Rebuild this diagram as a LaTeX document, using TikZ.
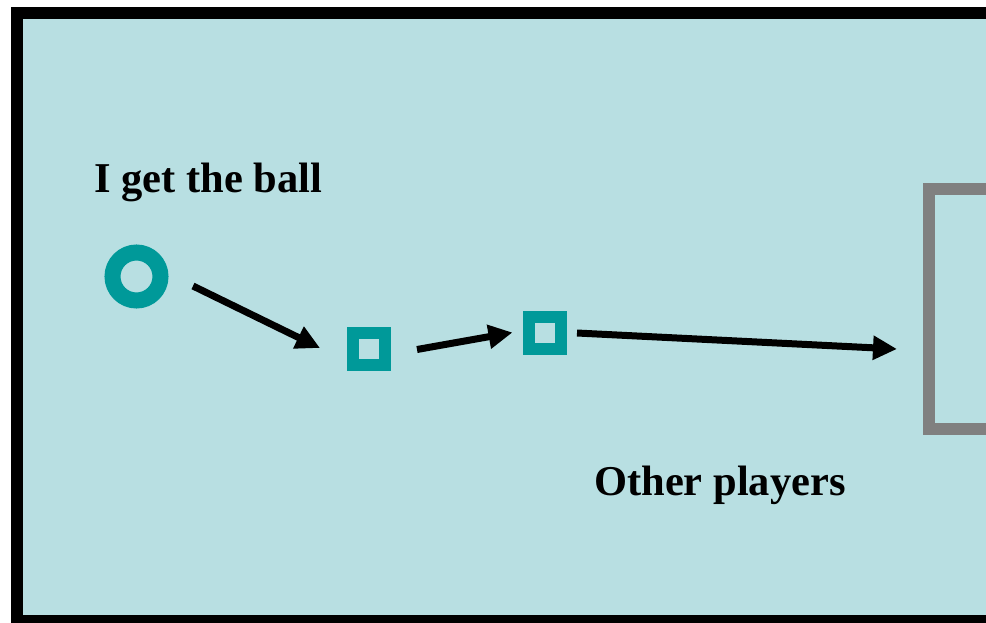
\documentclass[tikz,border=0pt]{standalone}
\usepackage{fontspec}
\setmainfont{Liberation Serif}
\usetikzlibrary{arrows.meta,calc}
\definecolor{field}{HTML}{B8DFE2}
\definecolor{teal}{HTML}{009999}
\definecolor{goalgray}{HTML}{808080}
\tikzset{
  player/.style={draw=teal, line width=16pt, circle, inner sep=0pt, minimum size=48pt},
  mate/.style={draw=teal, line width=12pt, rectangle, inner sep=0pt, minimum size=32pt},
  pass/.style={line width=7pt, -{Triangle[length=24pt,width=23pt]}},
  label/.style={font=\fontsize{42.5}{50}\selectfont\bfseries, inner sep=0pt, anchor=base west}
}
\begin{document}
\begin{tikzpicture}[x=1pt,y=-1pt]
\useasboundingbox (0,0) rectangle (986,622);
\clip (0,0) rectangle (986,622);
\fill[white] (0,0) rectangle (986,622);
\draw[line width=12pt, fill=field] (17,13) rectangle (1010,621);
\draw[goalgray, line width=12pt] (1010,189) -- (929,189) -- (929,429) -- (1010,429);
\node[player] (me) at (136.5,276.5) {};
\node[mate] (m1) at (369,349) {};
\node[mate] (m2) at (545,333) {};
\coordinate (goal) at (929,349);
\coordinate (a1s) at ($(me)+(56.5,9.5)$);
\coordinate (a1e) at ($(m1)+(-49,-1)$);
\coordinate (a2s) at ($(m1)+(48,0.5)$);
\coordinate (a2e) at ($(m2)+(-32.5,-0.5)$);
\coordinate (a3s) at ($(m2)+(32,0)$);
\coordinate (a3e) at ($(goal)+(-32,0)$);
\draw[pass] (a1s) -- (a1e);
\draw[pass] (a2s) -- (a2e);
\draw[pass] (a3s) -- (a3e);
\node[label] (t1) at (94,192.7) {I get the ball};
\node[label] (t2) at (594,495) {Other players};
\end{tikzpicture}
\end{document}
